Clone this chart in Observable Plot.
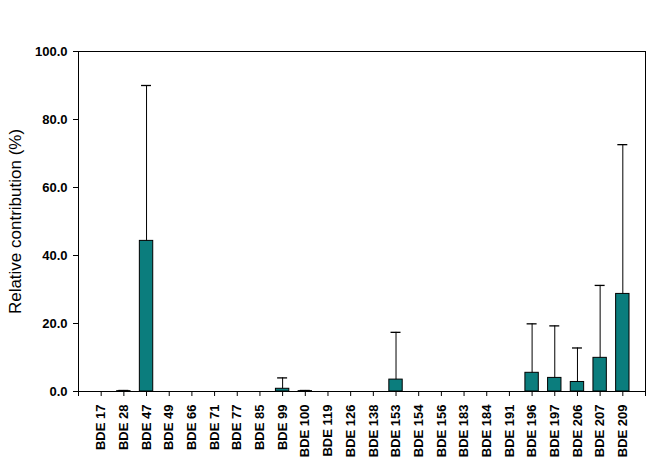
<!DOCTYPE html>
<html>
<head>
<meta charset="utf-8">
<script src="https://cdn.jsdelivr.net/npm/d3@7"></script>
<script src="https://cdn.jsdelivr.net/npm/@observablehq/plot@0.6"></script>
<style>
  html, body { margin: 0; padding: 0; background: #fff; }
  #chart svg { display: block; }
</style>
</head>
<body>
<div id="chart"></div>
<script>
const labels = ["BDE 17","BDE 28","BDE 47","BDE 49","BDE 66","BDE 71","BDE 77","BDE 85","BDE 99","BDE 100","BDE 119","BDE 126","BDE 138","BDE 153","BDE 154","BDE 156","BDE 183","BDE 184","BDE 191","BDE 196","BDE 197","BDE 206","BDE 207","BDE 209"];
const means = [0, 0.1, 44.3, 0, 0, 0, 0, 0, 0.8, 0.1, 0, 0, 0, 3.5, 0, 0, 0, 0, 0, 5.5, 4.0, 2.8, 9.9, 28.7];
const upper = [0, 0.3, 90.0, 0, 0, 0, 0, 0, 4.0, 0.3, 0, 0, 0, 17.4, 0, 0, 0, 0, 0, 19.9, 19.3, 12.8, 31.2, 72.6];
const yTicks = [0, 20, 40, 60, 80, 100];

const data = labels.map((name, k) => ({name, pos: k + 1, mean: means[k], hi: upper[k]}));
const shown = data.filter(d => d.mean > 0);

const halfBar = 0.295, halfCap = 0.22;

const chart = Plot.plot({
  width: 672,
  height: 471,
  marginTop: 51,
  marginRight: 27,
  marginBottom: 80,
  marginLeft: 78,
  style: {fontFamily: "'Liberation Sans', Arial, sans-serif", color: "#000", background: "#fff"},
  x: {domain: [0, labels.length + 1], axis: null},
  y: {domain: [0, 100], axis: null},
  marks: [
    Plot.rectY(shown, {x1: d => d.pos - halfBar, x2: d => d.pos + halfBar, y1: 0, y2: "mean", fill: "#0b7d7d", stroke: "#000", strokeWidth: 1}),
    Plot.ruleX(shown, {x: "pos", y1: "mean", y2: "hi", stroke: "#000", strokeWidth: 1}),
    Plot.ruleY(shown, {y: "hi", x1: d => d.pos - halfCap, x2: d => d.pos + halfCap, stroke: "#000", strokeWidth: 1.3}),
    Plot.frame({stroke: "#000", strokeWidth: 1}),
    Plot.axisY({ticks: yTicks, tickFormat: d3.format(".1f"), tickSize: 5, tickPadding: 6, fontSize: 13, fontWeight: "bold", label: null, stroke: "#000"}),
    Plot.axisX({ticks: d3.range(0, labels.length + 2), tickFormat: i => labels[i - 1] || "", tickSize: 5, tickPadding: 8, tickRotate: -90, fontSize: 13, fontWeight: "bold", label: null, stroke: "#000"}),
    Plot.text(["Relative contribution (%)"], {frameAnchor: "left", rotate: -90, dx: -63, fontSize: 17, textAnchor: "middle", fill: "#000"})
  ]
});
document.getElementById("chart").appendChild(chart);
</script>
</body>
</html>
